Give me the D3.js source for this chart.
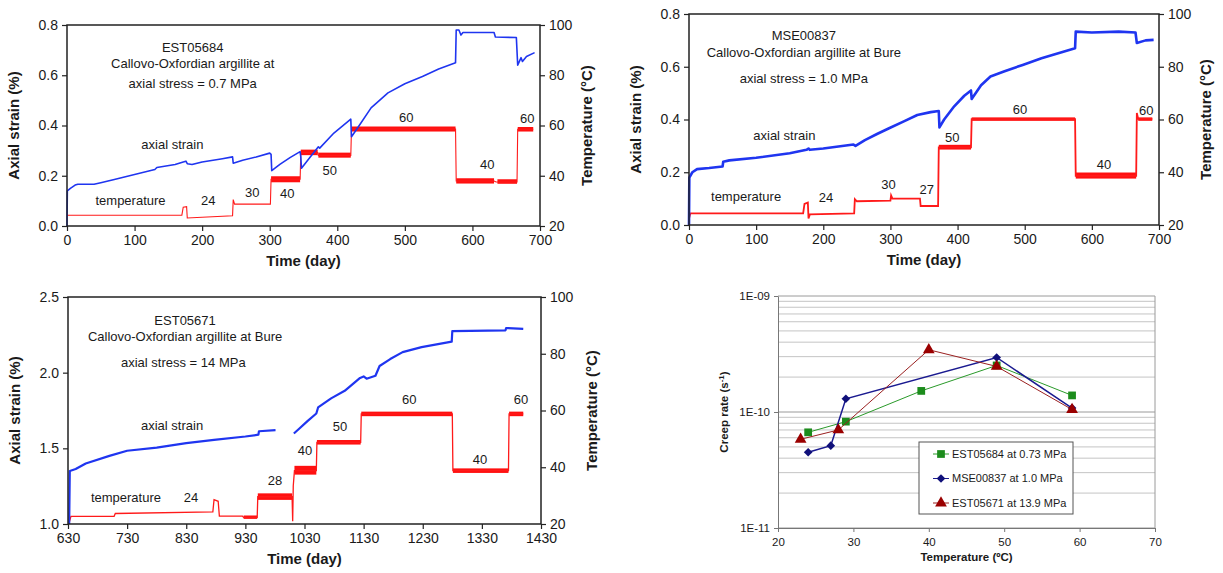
<!DOCTYPE html>
<html><head><meta charset="utf-8">
<script src="https://cdn.jsdelivr.net/npm/d3@7"></script>
<style>
body{margin:0;background:#fff}
text{font-family:"Liberation Sans",Arial,Helvetica,sans-serif;fill:#1a1a1a}
</style>
</head><body>
<svg id="c" width="1223" height="573"></svg>
<script>
// ---------------- DATA ----------------
// Panel A: EST05684 (0.7 MPa)  [day, axial strain %]
const strainA = [[0,0],[0.5,0.14],[5,0.15],[12,0.163],[16,0.166],[40,0.166],[50,0.172],[70,0.185],[100,0.205],[130,0.225],[133,0.233],[160,0.245],[172,0.255],[176,0.258],[178,0.248],[185,0.245],[200,0.255],[230,0.268],[245,0.275],[246,0.25],[260,0.262],[280,0.275],[300,0.29],[302,0.285],[303,0.22],[315,0.245],[330,0.272],[345,0.296],[346,0.275],[347,0.23],[360,0.275],[372,0.315],[374,0.31],[395,0.37],[420,0.425],[421,0.355],[430,0.39],[450,0.47],[475,0.53],[500,0.566],[526,0.595],[550,0.625],[575,0.65],[576,0.78],[580,0.78],[583,0.76],[586,0.77],[610,0.77],[632,0.77],[634,0.752],[665,0.75],[667,0.64],[672,0.67],[674,0.655],[680,0.675],[692,0.69]];
// [day, temperature °C]
const tempA = [[0,24.3],[170,24.3],[172,27.5],[177,27.7],[178,23.2],[200,23.5],[245,24.1],[246,30.5],[248,28.7],[301,28.7],[302,38.6],[345,38.6],[346,49.2],[371,49.2],[372,48.1],[420,48.1],[421,58.6],[575,58.6],[576,37.9],[632,37.9],[635,37.5],[666,37.5],[667,58.5],[690,58.5]];
// fluctuation range of temperature [startDay, endDay, Tmin, Tmax]
const bandA = [[302,345,37.4,39.8],[346,371,48.2,50.4],[372,420,47.2,49.2],[421,575,57.6,59.6],[576,632,36.9,39],[637,666,36.8,38.6],[667,690,57.6,59.4]];
const labelsA = [["EST05684",186,0.712],["Callovo-Oxfordian argillite at",186,0.645],["axial stress = 0.7 MPa",186,0.566],["axial strain",156,0.325],["temperature",94,0.103],["24",209,0.103],["30",274,0.132],["40",326,0.13],["50",389,0.222],["60",502,0.434],["40",622,0.246],["60",681,0.427]];

// Panel B: MSE00837 (1.0 MPa)
const strainB = [[0,0],[0.5,0.18],[5,0.2],[12,0.212],[30,0.216],[50,0.222],[51,0.24],[60,0.245],[100,0.255],[150,0.272],[175,0.285],[178,0.29],[180,0.285],[200,0.29],[245,0.305],[248,0.3],[262,0.322],[280,0.345],[298,0.367],[320,0.393],[340,0.417],[360,0.428],[372,0.432],[373,0.37],[380,0.4],[395,0.45],[410,0.49],[420,0.51],[421,0.478],[435,0.53],[449,0.563],[470,0.583],[497,0.607],[525,0.632],[555,0.655],[575,0.67],[576,0.733],[600,0.73],[640,0.733],[665,0.73],[667,0.69],[680,0.7],[692,0.702]];
const tempB = [[0,22.5],[2,24.4],[170,24.4],[172,28],[177,28.5],[178,22.5],[180,24],[246,24.4],[247,29.8],[250,29],[300,29.2],[301,31.2],[303,30],[344,30],[345,27.2],[371,27.2],[372,49.4],[420,49.4],[421,60.1],[575,60.1],[576,38.6],[666,38.6],[667,62.5],[669,60.2],[690,60.2]];
const bandB = [[372,420,48.6,50.4],[421,575,59.5,60.8],[576,666,37.6,39.9],[669,690,59.5,60.8]];
const labelsB = [["MSE00837",171,0.72],["Callovo-Oxfordian argillite at Bure",171,0.654],["axial stress = 1.0 MPa",171,0.556],["axial strain",142,0.341],["temperature",85,0.107],["24",204,0.105],["30",297,0.152],["27",354,0.135],["50",392,0.333],["60",493,0.439],["40",618,0.23],["60",681,0.436]];

// Panel C: EST05671 (14 MPa), null = data gap
const strainC = [[632,1.0],[633,1.35],[643,1.363],[660,1.4],[700,1.45],[730,1.484],[780,1.505],[830,1.534],[877,1.556],[930,1.578],[952,1.59],[953,1.613],[981,1.62],null,[1012,1.598],[1020,1.626],[1035,1.68],[1050,1.73],[1053,1.77],[1075,1.83],[1098,1.88],[1124,1.965],[1130,1.975],[1135,1.96],[1150,1.98],[1157,2.044],[1175,2.09],[1196,2.136],[1228,2.169],[1279,2.205],[1280,2.275],[1370,2.28],[1371,2.295],[1400,2.29]];
const tempC = [[632,20.5],[635,22.7],[708,22.7],[710,23.7],[875,24.3],[877,28.6],[884,28],[886,22.8],[925,22.8],[927,22.3],[950,22.3],[951,29.6],[1009,29.6],[1010,21],[1011,33.5],[1013,38.8],[1050,38.8],[1051,48.8],[1125,48.8],[1126,58.8],[1280,58.8],[1281,38.8],[1375,38.8],[1376,58.8],[1400,58.8]];
const bandC = [[927,950,21.8,23],[951,1009,28.5,30.8],[1013,1050,37.4,40.5],[1051,1125,48,49.6],[1126,1280,58,59.6],[1281,1375,38,39.6],[1376,1400,58,59.6]];
const labelsC = [["EST05671",828,2.347],["Callovo-Oxfordian argillite at Bure",828,2.237],["axial stress = 14 MPa",825,2.07],["axial strain",806,1.648],["temperature",728,1.176],["24",838,1.176],["28",980,1.286],["40",1031,1.484],["50",1090,1.644],["60",1207,1.824],["40",1327,1.429],["60",1396,1.824]];

const ticksTime = [0,100,200,300,400,500,600,700];
const ticksTimeC = [630,730,830,930,1030,1130,1230,1330,1430];
const ticksStrain = [0,0.2,0.4,0.6,0.8];
const ticksStrainC = [1.0,1.5,2.0,2.5];
const ticksTemp = [20,40,60,80,100];

// Panel D: creep rate vs temperature
const seriesNames = ["EST05684 at 0.73 MPa","MSE00837 at 1.0 MPa","EST05671 at 13.9 MPa"];
const tempEST05684 = [24,29,39,49,59];
const rateEST05684 = [6.68e-11,8.26e-11,1.52e-10,2.52e-10,1.39e-10];
const tempMSE00837 = [24,27,29,49,59];
const rateMSE00837 = [4.5e-11,5.13e-11,1.30e-10,2.95e-10,1.08e-10];
const tempEST05671 = [23,28,40,49,59];
const rateEST05671 = [5.82e-11,7.0e-11,3.44e-10,2.47e-10,1.05e-10];
const ticksTempD = [20,30,40,50,60,70];
const ticksRate = [1e-11,1e-10,1e-9];
const ticksRateLabels = ["1E-11","1E-10","1E-09"];

// ---------------- DRAW ----------------
const svg = d3.select('#c');

function timePanel(o){
  const g = svg.append('g');
  const x = d3.scaleLinear().domain(o.xDomain).range([o.l,o.r]);
  const y = d3.scaleLinear().domain(o.yDomain).range([o.b,o.t]);
  const y2 = d3.scaleLinear().domain([20,100]).range([o.b,o.t]);

  g.selectAll('rect.band').data(o.band).join('rect').attr('class','band')
    .attr('x',d=>x(d[0])).attr('width',d=>x(d[1])-x(d[0]))
    .attr('y',d=>y2(d[3])).attr('height',d=>y2(d[2])-y2(d[3]))
    .attr('fill','#ff1010');
  g.append('path').datum(o.temp)
    .attr('d',d3.line().x(d=>x(d[0])).y(d=>y2(d[1])))
    .attr('fill','none').attr('stroke','#ff1a1a').attr('stroke-width',o.tw);
  g.append('path').datum(o.strain)
    .attr('d',d3.line().defined(d=>d!==null).x(d=>x(d[0])).y(d=>y(d[1])))
    .attr('fill','none').attr('stroke','#1f35f0').attr('stroke-width',o.sw)
    .attr('stroke-linejoin','round');

  const fmt = d3.format('.1f');
  const ax = (sel)=>{ sel.select('.domain').remove(); sel.selectAll('line').attr('stroke','#222').attr('stroke-width',1.2);
    sel.selectAll('text').attr('font-size',14).attr('fill','#222').style('font-family','"Liberation Sans",Arial,sans-serif'); };
  g.append('g').attr('transform',`translate(0,${o.b})`)
    .call(d3.axisBottom(x).tickValues(o.xTicks).tickFormat(d3.format('d')).tickSize(5).tickPadding(4)).call(ax);
  g.append('g').attr('transform',`translate(${o.l},0)`)
    .call(d3.axisLeft(y).tickValues(o.yTicks).tickFormat(fmt).tickSize(5).tickPadding(4)).call(ax);
  g.append('g').attr('transform',`translate(${o.r},0)`)
    .call(d3.axisRight(y2).tickValues(ticksTemp).tickSize(5).tickPadding(4)).call(ax);
  g.append('rect').attr('x',o.l).attr('y',o.t).attr('width',o.r-o.l).attr('height',o.b-o.t)
    .attr('fill','none').attr('stroke','#222').attr('stroke-width',1.5);

  g.append('text').attr('x',(o.l+o.r)/2).attr('y',o.b+40).attr('text-anchor','middle')
    .attr('font-size',15).attr('font-weight','bold').text('Time (day)');
  g.append('text').attr('transform',`translate(${o.l-48},${(o.t+o.b)/2}) rotate(-90)`)
    .attr('text-anchor','middle').attr('font-size',15).attr('font-weight','bold').text('Axial strain (%)');
  g.append('text').attr('transform',`translate(${o.r+o.rt},${(o.t+o.b)/2}) rotate(-90)`)
    .attr('text-anchor','middle').attr('font-size',15).attr('font-weight','bold').text('Temperature (°C)');

  g.selectAll('text.lab').data(o.labels).join('text').attr('class','lab')
    .attr('x',d=>x(d[1])).attr('y',d=>y(d[2])).attr('dy','0.35em')
    .attr('text-anchor','middle').attr('font-size',13).text(d=>d[0]);
}

timePanel({l:67,r:540,t:25,b:226,xDomain:[0,700],yDomain:[0,0.8],xTicks:ticksTime,yTicks:ticksStrain,
  strain:strainA,temp:tempA,band:bandA,labels:labelsA,sw:1.6,tw:1.1,rt:52});
timePanel({l:689,r:1159,t:14,b:225,xDomain:[0,700],yDomain:[0,0.8],xTicks:ticksTime,yTicks:ticksStrain,
  strain:strainB,temp:tempB,band:bandB,labels:labelsB,sw:2.6,tw:1.8,rt:52});
timePanel({l:68,r:541,t:297,b:524,xDomain:[630,1430],yDomain:[1.0,2.5],xTicks:ticksTimeC,yTicks:ticksStrainC,
  strain:strainC,temp:tempC,band:bandC,labels:labelsC,sw:2.2,tw:1.3,rt:56});

// Panel D
(function(){
  const L=778,R=1155,T=296,B=528;
  const g = svg.append('g');
  const x = d3.scaleLinear().domain([20,70]).range([L,R]);
  const y = d3.scaleLog().domain([1e-11,1e-9]).range([B,T]);
  const grid=[];
  [1e-11,1e-10].forEach(dec=>{ for(let k=2;k<=9;k++) grid.push(k*dec); });
  g.selectAll('line.grid').data(grid).join('line').attr('class','grid')
    .attr('x1',L).attr('x2',R).attr('y1',d=>y(d)).attr('y2',d=>y(d))
    .attr('stroke','#c4c4c4').attr('stroke-width',1);
  g.selectAll('line.dec').data(ticksRate).join('line').attr('class','dec')
    .attr('x1',L).attr('x2',R).attr('y1',d=>y(d)).attr('y2',d=>y(d))
    .attr('stroke','#9a9a9a').attr('stroke-width',1);
  g.append('line').attr('x1',R).attr('x2',R).attr('y1',T).attr('y2',B).attr('stroke','#9a9a9a');
  const ax=(sel)=>{ sel.select('.domain').attr('stroke','#777');
    sel.selectAll('line').attr('stroke','#777');
    sel.selectAll('text').attr('font-size',11.5).attr('fill','#222').style('font-family','"Liberation Sans",Arial,sans-serif'); };
  g.append('g').attr('transform',`translate(0,${B})`)
    .call(d3.axisBottom(x).tickValues(ticksTempD).tickSize(4).tickSizeOuter(0).tickPadding(6)).call(ax);
  g.append('g').attr('transform',`translate(${L},0)`)
    .call(d3.axisLeft(y).tickValues(ticksRate).tickFormat((d,i)=>ticksRateLabels[i]).tickSize(4).tickSizeOuter(0).tickPadding(4)).call(ax);

  g.append('text').attr('x',(L+R)/2).attr('y',B+33).attr('text-anchor','middle')
    .attr('font-size',11.5).attr('font-weight','bold').text('Temperature (ºC)');
  const yt = g.append('text').attr('transform',`translate(${L-50},${(T+B)/2}) rotate(-90)`)
    .attr('text-anchor','middle').attr('font-size',11.5).attr('font-weight','bold');
  yt.append('tspan').text('Creep rate (s');
  yt.append('tspan').attr('dy',-4).attr('font-size',8).text('-1');
  yt.append('tspan').attr('dy',4).text(')');

  const series=[
    {name:seriesNames[0],t:tempEST05684,r:rateEST05684,line:'#2a9a2a',fill:'#1c8c1c',sym:d3.symbolSquare,size:60},
    {name:seriesNames[1],t:tempMSE00837,r:rateMSE00837,line:'#1a1a90',fill:'#10107a',sym:d3.symbolDiamond2,size:48},
    {name:seriesNames[2],t:tempEST05671,r:rateEST05671,line:'#9a2020',fill:'#9a0000',sym:d3.symbolTriangle,size:60}
  ];
  series.forEach(s=>{
    const pts=s.t.map((t,i)=>[t,s.r[i]]);
    g.append('path').datum(pts).attr('d',d3.line().x(d=>x(d[0])).y(d=>y(d[1])))
      .attr('fill','none').attr('stroke',s.line).attr('stroke-width',s.name.startsWith('MSE')?1.5:1);
    g.selectAll(null).data(pts).join('path')
      .attr('transform',d=>`translate(${x(d[0])},${y(d[1])})`)
      .attr('d',d3.symbol().type(s.sym).size(s.size)).attr('fill',s.fill);
  });
  // legend
  const lx=919, ly=442;
  g.append('rect').attr('x',lx).attr('y',ly).attr('width',154).attr('height',72)
    .attr('fill','#fff').attr('stroke','#555').attr('stroke-width',1);
  series.forEach((s,i)=>{
    const yy=ly+12+i*24.5;
    g.append('line').attr('x1',lx+14).attr('x2',lx+30).attr('y1',yy).attr('y2',yy).attr('stroke',s.line);
    g.append('path').attr('transform',`translate(${lx+22},${yy})`).attr('d',d3.symbol().type(s.sym).size(s.size)).attr('fill',s.fill);
    g.append('text').attr('x',lx+33).attr('y',yy).attr('dy','0.35em').attr('font-size',11).text(s.name);
  });
})();
</script>
</body></html>
